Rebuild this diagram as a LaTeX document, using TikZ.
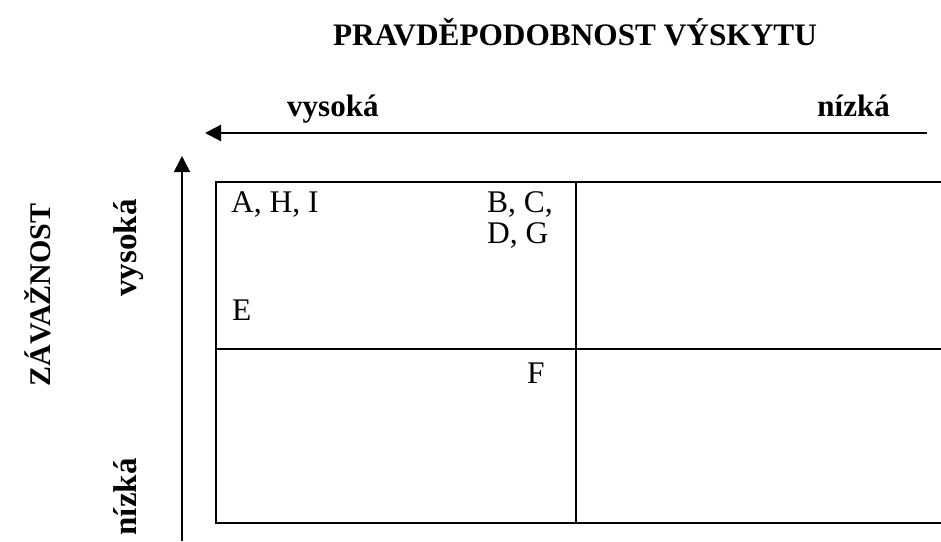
\documentclass[tikz,border=0pt]{standalone}
\usepackage{fontspec}
\setmainfont{Liberation Serif}
\usetikzlibrary{arrows.meta}
\tikzset{
  axislabel/.style={font=\fontsize{31}{36}\selectfont\bfseries, inner sep=0pt},
  celltext/.style={font=\fontsize{31.5}{36}\selectfont, inner sep=0pt, anchor=base west},
  gridline/.style={line width=2.6pt},
  axisarrow/.style={line width=2.2pt, -{Triangle[length=16pt,width=16pt]}},
}
\begin{document}
\begin{tikzpicture}[x=1pt,y=-1pt]
  \useasboundingbox (0,0) rectangle (941,541);

  % headings
  \node[axislabel, anchor=base, font=\fontsize{31.3}{36}\selectfont\bfseries] (title) at (575,45) {PRAVDĚPODOBNOST VÝSKYTU};
  \node[axislabel, anchor=base west] (phigh) at (287,116) {vysoká};
  \node[axislabel, anchor=base east] (plow) at (890,116) {nízká};
  \node[axislabel, anchor=base, rotate=90, font=\fontsize{30}{36}\selectfont\bfseries] (sev) at (50,295) {ZÁVAŽNOST};
  \node[axislabel, anchor=base, rotate=90, font=\fontsize{33}{36}\selectfont\bfseries] (shigh) at (136,248) {vysoká};
  \node[axislabel, anchor=base, rotate=90, font=\fontsize{33}{36}\selectfont\bfseries] (slow) at (136,497) {nízká};

  % axis arrows
  \coordinate (hfrom) at (927,133);
  \coordinate (hto) at (205,133);
  \coordinate (vfrom) at (182,541);
  \coordinate (vto) at (182,156);
  \draw[axisarrow] (hfrom) -- (hto);
  \draw[axisarrow, line width=1.6pt] (vfrom) -- (vto);

  % matrix grid, open on the right
  \coordinate (tl) at (216,182);
  \coordinate (ml) at (216,349);
  \coordinate (bl) at (216,523);
  \coordinate (tm) at (576,182);
  \coordinate (bm) at (576,523);
  \coordinate (tr) at (941,182);
  \coordinate (mr) at (941,349);
  \coordinate (br) at (941,523);
  \draw[gridline] (tr) -- (tl) -- (bl) -- (br);
  \draw[gridline] (ml) -- (mr);
  \draw[gridline] (tm) -- (bm);

  % risk entries
  \node[celltext] (ahi) at (231,212) {A, H, I};
  \node[celltext] (bc) at (487,212) {B, C,};
  \node[celltext] (dg) at (487,243) {D, G};
  \node[celltext] (e) at (232,320) {E};
  \node[celltext] (f) at (527,383) {F};
\end{tikzpicture}
\end{document}
